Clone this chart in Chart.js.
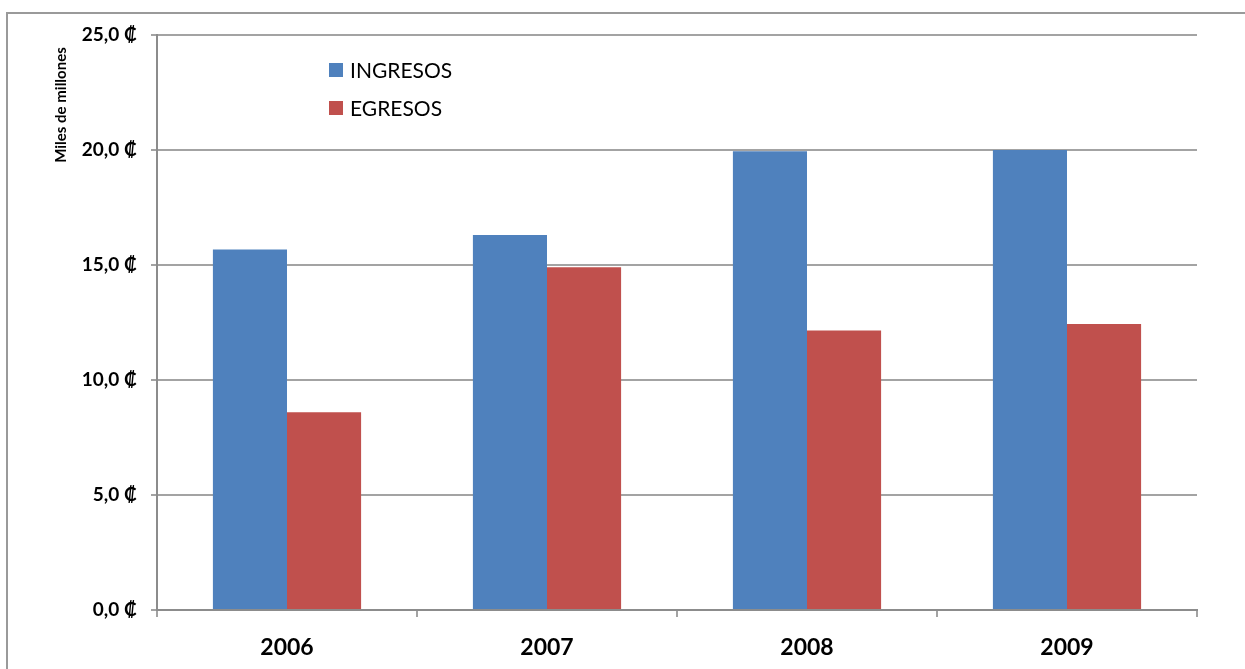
<!DOCTYPE html>
<html>
<head>
<meta charset="utf-8">
<script src="https://cdn.jsdelivr.net/npm/chart.js@4/dist/chart.umd.min.js"></script>
<style>
  html, body { margin: 0; padding: 0; background: #fff; }
  #wrap { width: 1245px; height: 669px; }
</style>
</head>
<body>
<div id="wrap"><canvas id="chart" width="1245" height="669"></canvas></div>
<script>
// Ingresos y egresos anuales, en miles de millones de colones
const years = ['2006', '2007', '2008', '2009'];
const ingresos = [15.67, 16.3, 19.95, 20.0];
const egresos = [8.6, 14.9, 12.15, 12.43];
const seriesNames = ['INGRESOS', 'EGRESOS'];
const yMax = 25;
const yStep = 5;

const BLUE = '#4f81bd';
const RED = '#c0504d';
const GRID = '#a3a3a3';
const FONT = 'Lato, "DejaVu Sans", sans-serif';

// frame around the chart, the rotated unit label and the legend box
const decor = {
  id: 'decor',
  beforeDraw(chart) {
    const c = chart.ctx;
    c.save();
    c.strokeStyle = '#9a9a9a';
    c.lineWidth = 2;
    c.beginPath();
    c.moveTo(7, 669);
    c.lineTo(7, 13);
    c.lineTo(1245, 13);
    c.stroke();
    c.restore();
  },
  afterDraw(chart) {
    const c = chart.ctx;
    c.save();
    c.translate(61, 105);
    c.rotate(-Math.PI / 2);
    c.fillStyle = '#000';
    c.font = 'bold 15px ' + FONT;
    c.textAlign = 'center';
    c.textBaseline = 'middle';
    c.fillText('Miles de millones', 0, 0);
    c.restore();

    c.save();
    c.font = '21px ' + FONT;
    c.textBaseline = 'middle';
    chart.data.datasets.forEach((ds, i) => {
      const y = 70 + i * 38;
      c.fillStyle = ds.backgroundColor;
      c.fillRect(329, y - 7, 14, 14);
      c.fillStyle = '#000';
      c.fillText(ds.label, 350, y + 1);
    });
    c.restore();
  }
};

new Chart(document.getElementById('chart'), {
  type: 'bar',
  data: {
    labels: years,
    datasets: [
      { label: seriesNames[0], data: ingresos, backgroundColor: BLUE },
      { label: seriesNames[1], data: egresos, backgroundColor: RED },
    ],
  },
  options: {
    responsive: false,
    animation: false,
    devicePixelRatio: 1,
    layout: { padding: { top: 35, right: 48, left: 0, bottom: 0 } },
    datasets: { bar: { categoryPercentage: 0.57, barPercentage: 1.0 } },
    plugins: {
      legend: { display: false },
      tooltip: { enabled: false },
    },
    scales: {
      x: {
        grid: { drawOnChartArea: false, drawTicks: true, tickLength: 7, color: GRID, lineWidth: 2, offset: true },
        border: { color: '#8c8c8c', width: 2 },
        ticks: { color: '#000', padding: 17, font: { family: FONT, size: 23, weight: 'bold' } },
        afterFit: s => { s.height = 59; },
      },
      y: {
        min: 0, max: yMax,
        grid: { color: GRID, lineWidth: 2, tickLength: 6 },
        border: { color: '#8c8c8c', width: 2 },
        ticks: {
          stepSize: yStep,
          color: '#000',
          padding: 14,
          font: { family: FONT, size: 19, weight: 'bold' },
          callback: v => v.toFixed(1).replace('.', ',') + ' \u20a1',
        },
        afterFit: s => { s.width = 157; },
      },
    },
  },
  plugins: [decor],
});
</script>
</body>
</html>
